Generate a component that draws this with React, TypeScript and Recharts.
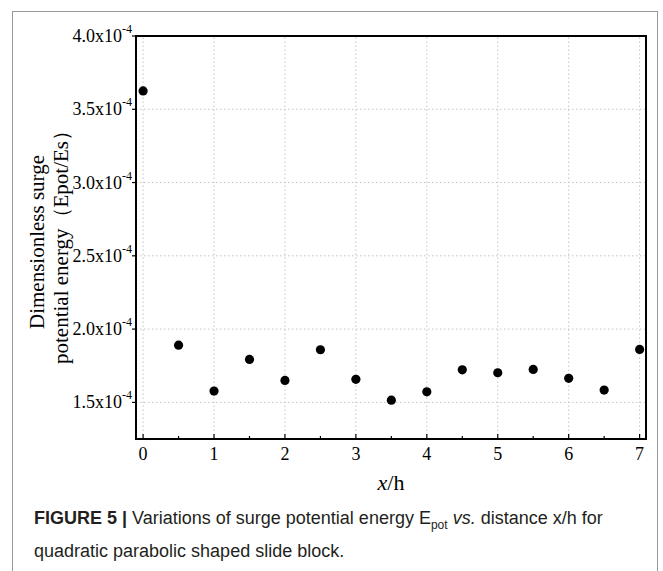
import React from "react";
import {
  ScatterChart,
  Scatter,
  XAxis,
  YAxis,
  CartesianGrid,
  ReferenceLine,
  ReferenceArea,
} from "recharts";

const xValues = [0, 0.5, 1, 1.5, 2, 2.5, 3, 3.5, 4, 4.5, 5, 5.5, 6, 6.5, 7];
const energyValues = [
  3.625e-4, 1.89e-4, 1.577e-4, 1.793e-4, 1.65e-4, 1.859e-4, 1.657e-4, 1.515e-4,
  1.572e-4, 1.722e-4, 1.702e-4, 1.725e-4, 1.664e-4, 1.584e-4, 1.861e-4,
];
const xTicks = [0, 0.5, 1, 1.5, 2, 2.5, 3, 3.5, 4, 4.5, 5, 5.5, 6, 6.5, 7];
const xGridValues = [0, 1, 2, 3, 4, 5, 6, 7];
const yTicks = [1.5e-4, 2.0e-4, 2.5e-4, 3.0e-4, 3.5e-4, 4.0e-4];
const xDomain = [-0.1, 7.09];
const yDomain = [1.25e-4, 4.0e-4];

const data = xValues.map((x, i) => ({ x, e: energyValues[i] }));

const SERIF = "'Liberation Serif', 'Times New Roman', serif";

const XTick = (props: any) => {
  const { x, y, payload } = props;
  const v = payload.value;
  const isMajor = Math.abs(v - Math.round(v)) < 1e-9;
  return (
    <g>
      <line x1={x} x2={x} y1={y} y2={y - (isMajor ? 5 : 3)} stroke="#000" strokeWidth={1.2} />
      {isMajor && (
        <text x={x} y={y + 21} textAnchor="middle" fontFamily={SERIF} fontSize={18} fill="#000">
          {String(v)}
        </text>
      )}
    </g>
  );
};

const YTick = (props: any) => {
  const { x, y, payload } = props;
  const main = (payload.value * 1e4).toFixed(1) + "x10";
  return (
    <text x={x} y={y + 6} textAnchor="end" fontFamily={SERIF} fontSize={18} fill="#000">
      {main}
      <tspan dy={-9} fontSize={12}>
        -4
      </tspan>
    </text>
  );
};

const YTitle = () => (
  <g fontFamily={SERIF} fontSize={21} fill="#000">
    <text transform="rotate(-90)" x={-242} y={44} textAnchor="middle">
      Dimensionless surge
    </text>
    <text transform="rotate(-90)" x={-242} y={68} textAnchor="middle">
      potential energy（Epot/Es）
    </text>
  </g>
);

const XTitle = () => (
  <text x={391} y={490} textAnchor="middle" fontFamily={SERIF} fontSize={22} fill="#000">
    <tspan fontStyle="italic">x</tspan>/h
  </text>
);

const Dot = (p: any) => <circle cx={p.cx} cy={p.cy} r={4.6} fill="#000" />;

export default function App() {
  return (
    <div style={{ position: "absolute", left: 0, top: 0, width: 663, height: 571, background: "#fff" }}>
      <div
        style={{
          position: "absolute",
          left: 12,
          top: 11,
          width: 646,
          height: 600,
          border: "1px solid #9a9a9a",
          boxSizing: "border-box",
        }}
      />
      <div style={{ position: "absolute", left: 0, top: 0 }}>
        <ScatterChart width={663} height={571} margin={{ top: 36, right: 17, bottom: 72, left: 0 }}>
          <CartesianGrid vertical={false} stroke="#c4c4c4" strokeDasharray="1.5 2.5" />
          {xGridValues.map((v) => (
            <ReferenceLine key={v} x={v} stroke="#c4c4c4" strokeDasharray="1.5 2.5" />
          ))}
          <XAxis
            type="number"
            dataKey="x"
            domain={xDomain}
            ticks={xTicks}
            interval={0}
            allowDataOverflow
            height={60}
            tickSize={0}
            tickMargin={0}
            tickLine={false}
            axisLine={{ stroke: "#000", strokeWidth: 2 }}
            tick={<XTick />}
            label={{ content: XTitle }}
          />
          <YAxis
            type="number"
            dataKey="e"
            domain={yDomain}
            ticks={yTicks}
            interval={0}
            allowDataOverflow
            width={136}
            tickSize={4}
            tickMargin={0}
            tickLine={{ stroke: "#000", strokeWidth: 1.2 }}
            axisLine={{ stroke: "#000", strokeWidth: 2 }}
            tick={<YTick />}
            label={{ content: YTitle }}
          />
          <ReferenceArea
            x1={xDomain[0]}
            x2={xDomain[1]}
            y1={yDomain[0]}
            y2={yDomain[1]}
            fill="none"
            stroke="#000"
            strokeWidth={2}
            ifOverflow="visible"
          />
          <Scatter data={data} fill="#000" shape={Dot} isAnimationActive={false} />
        </ScatterChart>
      </div>
      <div
        style={{
          position: "absolute",
          left: 34,
          top: 505,
          width: 620,
          fontFamily: "'Liberation Sans Narrow', 'Liberation Sans', Arial, sans-serif",
          fontSize: 18,
          lineHeight: "26px",
          color: "#231f20",
        }}
      >
        <span style={{ fontWeight: "bold" }}>FIGURE 5 | </span>Variations of surge potential energy E
        <sub style={{ fontSize: 12 }}>pot</sub> <i>vs.</i> distance x/h for
        <br />
        quadratic parabolic shaped slide block.
      </div>
    </div>
  );
}
